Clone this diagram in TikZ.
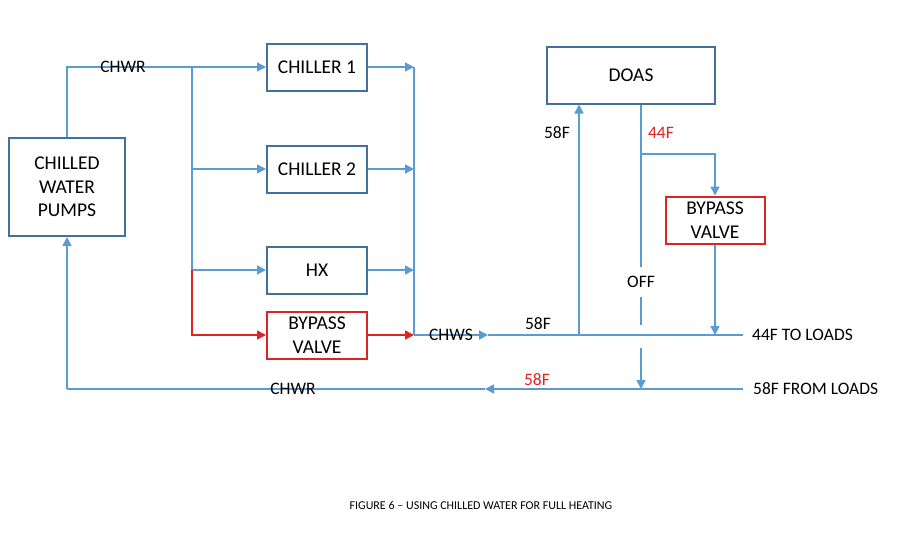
\documentclass[tikz,border=0pt]{standalone}
\usepackage{fontspec}
\setmainfont{Carlito}
\usetikzlibrary{arrows.meta}
\definecolor{pipeblue}{RGB}{91,155,213}
\definecolor{frameblue}{RGB}{65,113,156}
\definecolor{hotred}{RGB}{222,35,35}
\begin{document}
\begin{tikzpicture}[x=1pt,y=-1pt,
  box/.style={draw=frameblue, line width=2pt, inner sep=0pt, align=center, font=\fontsize{19.5}{23.5}\selectfont},
  redbox/.style={box, draw=hotred},
  lbl/.style={font=\fontsize{17.5}{20}\selectfont, inner sep=1pt},
  pipe/.style={draw=pipeblue, line width=1.6pt},
  flow/.style={pipe, -{Triangle[length=9pt,width=9pt]}},
  redflow/.style={flow, draw=hotred}]
\useasboundingbox (0,0) rectangle (900,550);
% boxes
\node[box, minimum width=116, minimum height=98] (pumps) at (67,187) {CHILLED\\WATER\\PUMPS};
\node[box, minimum width=100, minimum height=47] (ch1) at (317,67) {CHILLER 1};
\node[box, minimum width=100, minimum height=47] (ch2) at (317,169) {CHILLER 2};
\node[box, minimum width=100, minimum height=47] (hx) at (317,270) {HX};
\node[redbox, minimum width=100, minimum height=47] (bv1) at (317,335) {BYPASS\\VALVE};
\node[box, minimum width=168, minimum height=57] (doas) at (631,75) {DOAS};
\node[redbox, minimum width=99, minimum height=47] (bv2) at (715,220) {BYPASS\\VALVE};
% pipe points
\coordinate (s2) at (192,169);
\coordinate (s3) at (192,270);
\coordinate (c1) at (414,67);
\coordinate (c2) at (414,169);
\coordinate (c3) at (414,270);
\coordinate (c4) at (414,335);
\coordinate (sup) at (488,335);
\coordinate (tee) at (579,335);
\coordinate (loads) at (743,335);
\coordinate (mix) at (715,335);
\coordinate (br) at (641,154);
\coordinate (off1) at (641,267);
\coordinate (off2) at (641,297);
\coordinate (off3) at (641,325);
\coordinate (off4) at (641,348);
\coordinate (off5) at (641,389);
\coordinate (ret0) at (743,389);
\coordinate (retA) at (485,389);
\coordinate (retE) at (67,389);
% return to chillers
\draw[flow] (pumps.north) |- (ch1.west);
\draw[pipe] (192,67) -- (s3);
\draw[flow] (s2) -- (ch2.west);
\draw[flow] (s3) -- (hx.west);
\draw[redflow] (s3) |- (bv1.west);
% supply side
\draw[flow] (ch1.east) -- (c1);
\draw[flow] (ch2.east) -- (c2);
\draw[flow] (hx.east) -- (c3);
\draw[redflow] (bv1.east) -- (c4);
\draw[pipe] (c1) -- (c4);
\draw[flow] (c4) -- (sup);
\draw[pipe] (sup) -- (loads);
% doas loop
\draw[flow] (tee) -- (doas.south -| tee);
\draw[pipe] (doas.south -| off1) -- (off1);
\draw[pipe] (off2) -- (off3);
\draw[flow] (off4) -- (off5);
\draw[flow] (br) -| (bv2.north);
\draw[flow] (bv2.south) -- (mix);
% return from loads
\draw[flow] (ret0) -- (retA);
\draw[pipe] (retA) -- (retE);
\draw[flow] (retE) -- (pumps.south);
% labels
\node[lbl] (chwrTop) at (123,67) {CHWR};
\node[lbl] (chws) at (451,335) {CHWS};
\node[lbl] (tUp) at (557,133) {58F};
\node[lbl, text=hotred] (tDown) at (661,133) {44F};
\node[lbl] (off) at (641,282) {OFF};
\node[lbl] (tSup) at (538,324) {58F};
\node[lbl, anchor=west] (toLoads) at (751,335) {44F TO LOADS};
\node[lbl, anchor=west] (fromLoads) at (752,389) {58F FROM LOADS};
\node[lbl, text=hotred] (tRet) at (537,380) {58F};
\node[lbl] (chwrBot) at (293,389) {CHWR};
\node[font=\fontsize{12}{14}\selectfont] (caption) at (481,505) {FIGURE 6 – USING CHILLED WATER FOR FULL HEATING};
\end{tikzpicture}
\end{document}
